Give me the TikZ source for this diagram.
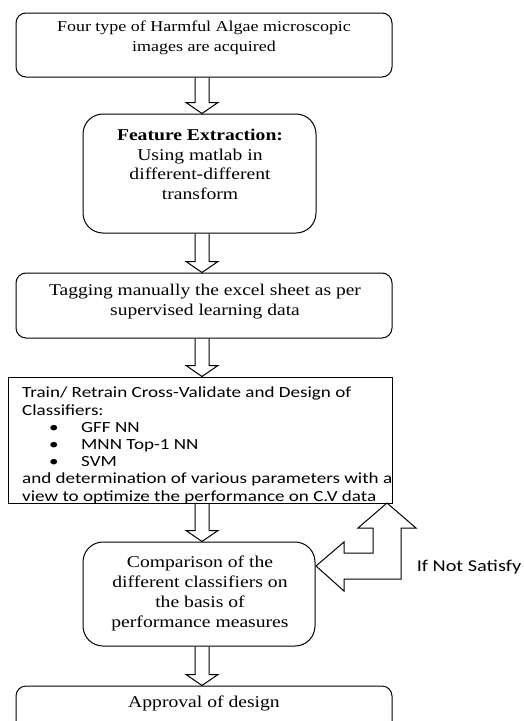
\documentclass[tikz,border=0pt]{standalone}
\usepackage{fontspec}
\setmainfont{Liberation Serif}[FakeStretch=1.19]
\newfontfamily\calib{Carlito}[FakeStretch=1.23]
\usetikzlibrary{calc}
\tikzset{
  box/.style={draw, line width=1pt, rounded corners=10pt, inner sep=0pt},
  bigbox/.style={box, rounded corners=20pt},
  sqbox/.style={draw, line width=1pt, inner sep=0pt},
  blk/.style={draw, line width=1pt, line join=miter},
  serif/.style={align=center, inner sep=0pt, font=\fontsize{#1}{20}\selectfont},
}
\newcommand{\bdarrow}[2]{%
  \draw[blk] let \p1=(axis |- #1.south), \p2=(axis |- #2.north) in
    (\x1-7pt,\y1) -- (\x1-7pt,\y2+11pt) -- (\x1-16pt,\y2+11pt) -- (\x2,\y2)
    -- (\x1+16pt,\y2+11pt) -- (\x1+7pt,\y2+11pt) -- (\x1+7pt,\y1);}
\begin{document}
\begin{tikzpicture}[x=1pt,y=-1pt]
\useasboundingbox (0,0) rectangle (524,721);
\clip (0,0) rectangle (524,721);
\fill[white] (0,0) rectangle (524,721);
\coordinate (axis) at (202,0);
% boxes
\node[box, minimum width=376pt, minimum height=64pt] (b1) at (204,45) {};
\node[bigbox, minimum width=233pt, minimum height=119pt] (b2) at (199.5,173.5) {};
\node[box, minimum width=376pt, minimum height=65pt] (b3) at (204,305.5) {};
\node[sqbox, minimum width=384pt, minimum height=126pt] (b4) at (200,440) {};
\node[bigbox, minimum width=232pt, minimum height=104pt] (b5) at (199,594) {};
\node[box, minimum width=376pt, minimum height=64pt] (b6) at (204,718) {};
% texts
\node[serif=15.1] (t1) at (204,38) {Four type of Harmful Algae microscopic\\images are acquired};
\node[serif=16.5, font=\fontsize{16.5}{19.7}\selectfont] (t2) at (200,164.5) {\textbf{Feature Extraction:}\\Using matlab in\\different-different\\transform};
\node[serif=16.4] (t3) at (205,302) {Tagging manually the excel sheet as per\\supervised learning data};
\node[align=left, anchor=north west, inner sep=0pt, font=\calib\fontsize{15.5}{17.2}\selectfont] (t4) at (22,387)
 {Train/ Retrain Cross-Validate and Design of\\Classifiers:\\
  \makebox[59pt][l]{\hspace*{27pt}\textbullet}GFF NN\\
  \makebox[59pt][l]{\hspace*{27pt}\textbullet}MNN Top-1 NN\\
  \makebox[59pt][l]{\hspace*{27pt}\textbullet}SVM\\
  and determination of various parameters with a\\view to optimize the performance on C.V data};
\node[serif=16.5] (t5) at (200,593) {Comparison of the\\different classifiers on\\the basis of\\performance measures};
\node[serif=16.5] (t6) at (204,703) {Approval of design};
\node[inner sep=0pt, font=\calib\fontsize{16.5}{20}\selectfont] (tn) at (469,567) {If Not Satisfy};
% block arrows
\bdarrow{b1}{b2}
\bdarrow{b2}{b3}
\bdarrow{b3}{b4}
\bdarrow{b4}{b5}
\bdarrow{b5}{b6}
% feedback arrow
\coordinate (fbL) at (316,566);
\coordinate (fbU) at (387,503);
\draw[blk] (fbL) -- ++(28,-24) -- ++(0,11) -- ++(29,0) -- ++(0,-25) -- ++(-15,0) -- (fbU)
  -- ++(29,25) -- ++(-15,0) -- ++(0,51) -- ++(-57,0) -- ++(0,12) -- cycle;
\end{tikzpicture}
\end{document}
